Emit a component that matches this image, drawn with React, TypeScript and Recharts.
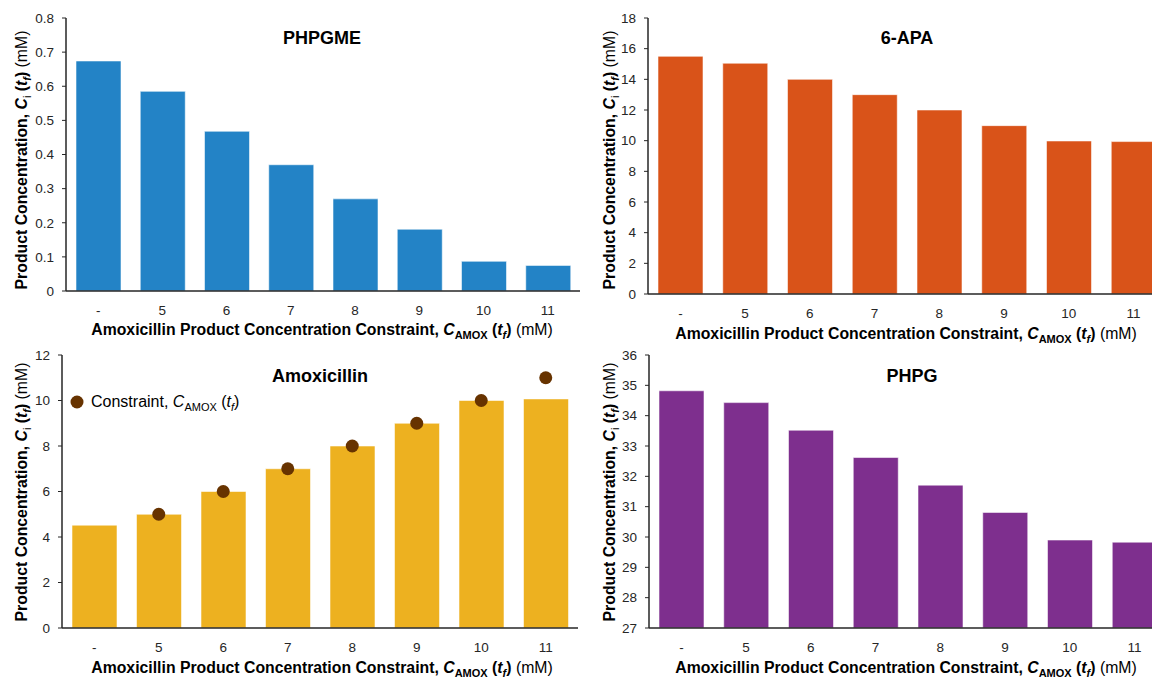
import React from "react";
import { ComposedChart, Bar, Line, XAxis, YAxis } from "recharts";

const FONT = "'Liberation Sans', Arial, Helvetica, sans-serif";

const CATEGORIES = ["-", "5", "6", "7", "8", "9", "10", "11"];
const PHPGME = [0.674, 0.585, 0.468, 0.37, 0.27, 0.181, 0.087, 0.075];
const APA6 = [15.5, 15.05, 14.0, 13.0, 12.0, 10.98, 9.98, 9.94];
const AMOX = [4.52, 5.0, 6.0, 7.0, 8.0, 9.0, 10.0, 10.07];
const CONSTRAINT = [null, 5, 6, 7, 8, 9, 10, 11];
const PHPG = [34.82, 34.43, 33.52, 32.62, 31.71, 30.81, 29.9, 29.83];

const PHPGME_TICKS = [0, 0.1, 0.2, 0.3, 0.4, 0.5, 0.6, 0.7, 0.8];
const APA6_TICKS = [0, 2, 4, 6, 8, 10, 12, 14, 16, 18];
const AMOX_TICKS = [0, 2, 4, 6, 8, 10, 12];
const PHPG_TICKS = [27, 28, 29, 30, 31, 32, 33, 34, 35, 36];

const DOT_COLOR = "#673300";
const AXIS_COLOR = "#262626";
const TITLE_SIZE = 15.8;
const SUB_SIZE = 11;

function XTitle({ x, y }: { x: number; y: number }) {
  return (
    <text x={x} y={y} textAnchor="middle" fontSize={TITLE_SIZE} fontFamily={FONT} fill="#000">
      <tspan fontWeight="bold">{"Amoxicillin Product Concentration Constraint, "}</tspan>
      <tspan fontWeight="bold" fontStyle="italic">C</tspan>
      <tspan fontWeight="bold" fontSize={SUB_SIZE} dy={4}>AMOX</tspan>
      <tspan fontWeight="bold" dy={-4}>{" ("}</tspan>
      <tspan fontWeight="bold" fontStyle="italic">t</tspan>
      <tspan fontWeight="bold" fontStyle="italic" fontSize={SUB_SIZE} dy={4}>f</tspan>
      <tspan fontWeight="bold" dy={-4}>)</tspan>
      <tspan>{" (mM)"}</tspan>
    </text>
  );
}

function YTitle({ x, y }: { x: number; y: number }) {
  return (
    <text
      x={x}
      y={y}
      transform={`rotate(-90 ${x} ${y})`}
      textAnchor="middle"
      fontSize={TITLE_SIZE}
      fontFamily={FONT}
      fill="#000"
    >
      <tspan fontWeight="bold">{"Product Concentration, "}</tspan>
      <tspan fontWeight="bold" fontStyle="italic">C</tspan>
      <tspan fontSize={SUB_SIZE} dy={4}>i</tspan>
      <tspan fontWeight="bold" dy={-4}>{" ("}</tspan>
      <tspan fontWeight="bold" fontStyle="italic">t</tspan>
      <tspan fontWeight="bold" fontStyle="italic" fontSize={SUB_SIZE} dy={4}>f</tspan>
      <tspan fontWeight="bold" dy={-4}>)</tspan>
      <tspan>{" (mM)"}</tspan>
    </text>
  );
}

function ConstraintLegend({ x, y }: { x: number; y: number }) {
  return (
    <g>
      <circle cx={x} cy={y - 5} r={6.5} fill={DOT_COLOR} />
      <text x={x + 14} y={y} fontSize={16} fontFamily={FONT} fill="#000">
        {"Constraint, "}
        <tspan fontStyle="italic">C</tspan>
        <tspan fontSize={11} dy={4}>AMOX</tspan>
        <tspan dy={-4}>{" ("}</tspan>
        <tspan fontStyle="italic">t</tspan>
        <tspan fontStyle="italic" fontSize={11} dy={4}>f</tspan>
        <tspan dy={-4}>)</tspan>
      </text>
    </g>
  );
}

type PanelProps = {
  left: number;
  top: number;
  width: number;
  height: number;
  plotLeft: number;
  plotRight: number;
  plotTop: number;
  plotBottom: number;
  values: number[];
  color: string;
  ticks: number[];
  decimals: number;
  title: string;
  titleX: number;
  titleY: number;
  xTitleX: number;
  xTitleY: number;
  yTitleX: number;
  yTitleY: number;
  constraint?: (number | null)[];
  legendX?: number;
  legendY?: number;
};

function Panel(p: PanelProps) {
  const data = CATEGORIES.map((cat, i) => ({
    cat,
    value: p.values[i],
    constraint: p.constraint ? p.constraint[i] : null,
  }));
  const yw = p.plotLeft - p.left;
  const mRight = p.left + p.width - p.plotRight;
  const mTop = p.plotTop - p.top;
  const xh = p.top + p.height - p.plotBottom;
  const ox = p.left;
  const oy = p.top;

  const texts = () => (
    <g>
      <text
        x={p.titleX - ox}
        y={p.titleY - oy}
        textAnchor="middle"
        fontSize={18}
        fontWeight="bold"
        fontFamily={FONT}
        fill="#000"
      >
        {p.title}
      </text>
      <XTitle x={p.xTitleX - ox} y={p.xTitleY - oy} />
      <YTitle x={p.yTitleX - ox} y={p.yTitleY - oy} />
      {p.legendX !== undefined && p.legendY !== undefined && (
        <ConstraintLegend x={p.legendX - ox} y={p.legendY - oy} />
      )}
    </g>
  );

  return (
    <div style={{ position: "absolute", left: p.left, top: p.top }}>
      <ComposedChart
        width={p.width}
        height={p.height}
        data={data}
        margin={{ top: mTop, right: mRight, bottom: 0, left: 0 }}
        barCategoryGap={0}
      >
        <XAxis
          dataKey="cat"
          height={xh}
          tickLine={false}
          tickSize={0}
          tickMargin={14}
          axisLine={{ stroke: AXIS_COLOR, strokeWidth: 1.5 }}
          tick={{ fontSize: 13.5, fill: "#262626", fontFamily: FONT }}
          interval={0}
          label={texts}
        />
        <XAxis
          xAxisId="top"
          orientation="top"
          dataKey="cat"
          height={0}
          tick={false}
          tickLine={false}
          axisLine={{ stroke: "#6f6f6f", strokeWidth: 1.5 }}
        />
        <YAxis
          width={yw}
          domain={[p.ticks[0], p.ticks[p.ticks.length - 1]]}
          ticks={p.ticks}
          allowDataOverflow
          tickSize={4}
          tickMargin={8}
          tickLine={{ stroke: AXIS_COLOR }}
          axisLine={{ stroke: AXIS_COLOR, strokeWidth: 1.5 }}
          tick={{ fontSize: 13.5, fill: "#262626", fontFamily: FONT }}
          tickFormatter={(v: number) => (v === 0 ? "0" : v.toFixed(p.decimals))}
        />
        <YAxis
          yAxisId="right"
          orientation="right"
          width={0}
          tick={false}
          tickLine={false}
          axisLine={{ stroke: "#111", strokeWidth: 1.5 }}
        />
        <Bar
          dataKey="value"
          fill={p.color}
          barSize={45}
          stroke="#ffffff"
          strokeOpacity={0.55}
          strokeWidth={1}
          isAnimationActive={false}
        />
        {p.constraint && (
          <Line
            dataKey="constraint"
            stroke="none"
            dot={{ r: 6.5, fill: DOT_COLOR, stroke: "none" }}
            activeDot={false}
            isAnimationActive={false}
          />
        )}
      </ComposedChart>
    </div>
  );
}

export default function App() {
  return (
    <div
      style={{
        position: "absolute",
        left: 0,
        top: 0,
        width: 1152,
        height: 678,
        overflow: "hidden",
        background: "#fff",
        fontFamily: FONT,
      }}
    >
      <Panel
        left={0}
        top={0}
        width={600}
        height={345}
        plotLeft={66}
        plotRight={580}
        plotTop={18}
        plotBottom={291}
        values={PHPGME}
        color="#2383C6"
        ticks={PHPGME_TICKS}
        decimals={1}
        title="PHPGME"
        titleX={322}
        titleY={44}
        xTitleX={322}
        xTitleY={335}
        yTitleX={27}
        yTitleY={160}
      />
      <Panel
        left={576}
        top={0}
        width={600}
        height={345}
        plotLeft={648}
        plotRight={1166}
        plotTop={18}
        plotBottom={294}
        values={APA6}
        color="#D95319"
        ticks={APA6_TICKS}
        decimals={0}
        title="6-APA"
        titleX={907}
        titleY={44}
        xTitleX={906}
        xTitleY={339}
        yTitleX={615}
        yTitleY={160}
      />
      <Panel
        left={0}
        top={340}
        width={600}
        height={338}
        plotLeft={62}
        plotRight={578}
        plotTop={355}
        plotBottom={628}
        values={AMOX}
        color="#EDB120"
        ticks={AMOX_TICKS}
        decimals={0}
        title="Amoxicillin"
        titleX={320}
        titleY={382}
        xTitleX={322}
        xTitleY={673}
        yTitleX={27}
        yTitleY={492}
        constraint={CONSTRAINT}
        legendX={77}
        legendY={407}
      />
      <Panel
        left={576}
        top={340}
        width={600}
        height={338}
        plotLeft={649}
        plotRight={1167}
        plotTop={355}
        plotBottom={628}
        values={PHPG}
        color="#7E2F8E"
        ticks={PHPG_TICKS}
        decimals={0}
        title="PHPG"
        titleX={912}
        titleY={382}
        xTitleX={906}
        xTitleY={673}
        yTitleX={615}
        yTitleY={492}
      />
    </div>
  );
}
